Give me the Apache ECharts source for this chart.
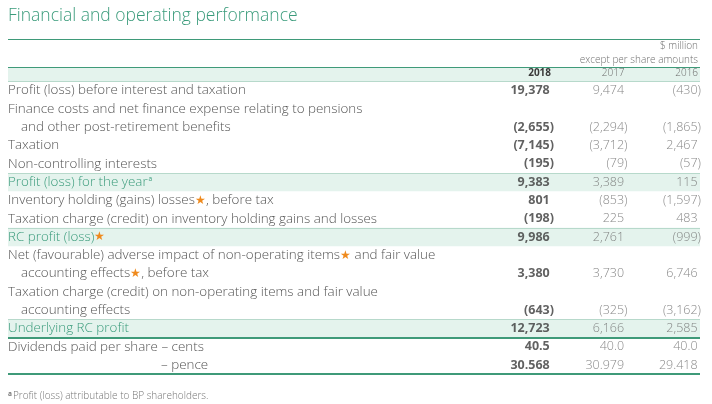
<!DOCTYPE html>
<html>
<head>
<meta charset="utf-8">
<script src="https://cdn.jsdelivr.net/npm/echarts@6/dist/echarts.min.js"></script>
<style>
  html, body { margin: 0; padding: 0; background: #fff; }
  #main { width: 712px; height: 404px; }
</style>
</head>
<body>
<div id="main"></div>
<script>
// table rows, one entry per printed line
var lines = [
  'Profit (loss) before interest and taxation',
  'Finance costs and net finance expense relating to pensions',
  'and other post-retirement benefits',
  'Taxation',
  'Non-controlling interests',
  'Profit (loss) for the year^a',
  'Inventory holding (gains) losses★, before tax',
  'Taxation charge (credit) on inventory holding gains and losses',
  'RC profit (loss)★',
  'Net (favourable) adverse impact of non-operating items★ and fair value',
  'accounting effects★, before tax',
  'Taxation charge (credit) on non-operating items and fair value',
  'accounting effects',
  'Underlying RC profit',
  'Dividends paid per share – cents',
  '– pence'
];
// line on which each value row is printed
var valueLines = [0, 2, 3, 4, 5, 6, 7, 8, 10, 12, 13, 14, 15];
var years = ['2018', '2017', '2016'];
var v2018 = [19378, -2655, -7145, -195, 9383, 801, -198, 9986, 3380, -643, 12723, 40.5, 30.568];
var v2017 = [9474, -2294, -3712, -79, 3389, -853, 225, 2761, 3730, -325, 6166, 40.0, 30.979];
var v2016 = [-430, -1865, 2467, -57, 115, -1597, 483, -999, 6746, -3162, 2585, 40.0, 29.418];
var decimals = [0, 0, 0, 0, 0, 0, 0, 0, 0, 0, 0, 1, 3];
var bandLines = ['Profit (loss) for the year^a', 'RC profit (loss)★', 'Underlying RC profit'];
var headerLines = ['$ million', 'except per share amounts', 'years'];
var footnote = 'Profit (loss) attributable to BP shareholders.';

var GREEN = '#3a9b7b';
var DARK = '#3f9a79';
var LIGHT = '#b7d9cb';
var BAND = '#e4f3ed';
var FONT = 'Open Sans';
var FS = 12.5;   // numbers
var FL = 13.4;   // row labels

function fmtNum(v, d) {
  var s = Math.abs(v).toLocaleString('en-US', {minimumFractionDigits: d, maximumFractionDigits: d});
  return v < 0 ? '(' + s + ')' : s + '{h|)}';
}

function fmtLine(value) {
  var st = bandLines.indexOf(value) >= 0 ? 'g' : 't';
  var pre = '';
  if (/^[a-z]/.test(value)) pre = '{ind|}';
  if (value.charAt(0) === '–') pre = '{dash|}';
  var sup = '';
  if (value.indexOf('^a') >= 0) { value = value.replace('^a', ''); sup = '{sup|a}'; }
  var parts = value.split('★');
  var out = pre;
  for (var i = 0; i < parts.length; i++) {
    if (parts[i]) out += '{' + st + '|' + parts[i] + '}';
    if (i < parts.length - 1) out += '{s|★}';
  }
  return out + sup;
}

function numSeries(name, vals, bold) {
  return {
    type: 'scatter', name: name, xAxisIndex: 2, yAxisIndex: 3,
    symbolSize: 0, silent: true, z: 5,
    data: vals.map(function (v, k) { return [name, lines[valueLines[k]], v]; }),
    label: {
      show: true, position: [0, 0], align: 'right', verticalAlign: 'middle',
      formatter: function (p) { return fmtNum(p.value[2], decimals[p.dataIndex]); },
      fontFamily: FONT, fontSize: FS,
      fontWeight: bold ? 'bold' : 300,
      color: bold ? '#3a3a3a' : '#6a6a6a',
      rich: { h: { color: 'rgba(0,0,0,0)', fontSize: FS, fontFamily: FONT, fontWeight: bold ? 'bold' : 300 } }
    }
  };
}

var chart = echarts.init(document.getElementById('main'));
var option = {
  animation: false,
  textStyle: { fontFamily: FONT },
  title: [
    { text: 'Financial and operating performance', left: 3, top: 2,
      textStyle: { fontFamily: FONT, fontSize: 17.5, fontWeight: 300, color: GREEN } },
    { text: '{sup|a}{f|' + footnote + '}', left: 3, top: 386,
      textStyle: { rich: {
        sup: { fontSize: 6.5, color: '#777', fontFamily: FONT, padding: [0, 1, 4, 0] },
        f: { fontSize: 10, color: '#777', fontFamily: FONT, fontWeight: 300 }
      } } }
  ],
  grid: [
    { left: 8, right: 12, top: 39, height: 42 },
    { left: 8, right: 12, top: 81.5, height: 292.7 },
    { left: 554, right: 11, top: 81.5, height: 292.7 }
  ],
  xAxis: [
    { gridIndex: 0, type: 'value', min: 0, max: 1, show: false },
    { gridIndex: 1, type: 'value', min: 0, max: 1, show: false },
    { gridIndex: 2, type: 'category', data: years, position: 'top', boundaryGap: false, z: 5,
      axisLine: { show: false }, axisTick: { show: false }, splitLine: { show: false },
      axisLabel: {
        interval: 0, align: 'right', verticalAlign: 'middle', margin: 8,
        formatter: function (v, i) { return '{' + (i === 0 ? 'b' : 'n') + '|' + v + '}{h|)}'; },
        rich: {
          b: { fontSize: 10, fontWeight: 'bold', color: '#3a3a3a', fontFamily: FONT },
          n: { fontSize: 10, fontWeight: 300, color: '#6a6a6a', fontFamily: FONT },
          h: { fontSize: 10, color: 'rgba(0,0,0,0)', fontFamily: FONT }
        }
      } }
  ],
  yAxis: [
    { gridIndex: 0, type: 'category', data: headerLines, inverse: true, position: 'right',
      axisLine: { show: false }, axisTick: { show: false },
      axisLabel: { interval: 0, align: 'right', margin: -2, fontSize: 10, fontWeight: 300, color: '#707070',
        formatter: function (v) { return v === 'years' ? '' : v; } },
      splitLine: { show: true, interval: function (i) { return i === 0 || i === 2; },
        lineStyle: { color: [DARK, DARK, LIGHT], width: 1.2 } } },
    { gridIndex: 1, type: 'category', data: lines, inverse: true, position: 'left', z: 5,
      axisLine: { show: false }, axisTick: { show: false },
      axisLabel: {
        interval: 0, align: 'left', margin: 0, formatter: fmtLine,
        rich: {
          t: { fontSize: FL, fontWeight: 300, color: '#555', fontFamily: FONT },
          g: { fontSize: FL, fontWeight: 300, color: GREEN, fontFamily: FONT },
          s: { fontSize: 11.5, color: '#ef8a1d', fontFamily: FONT },
          sup: { fontSize: 6.5, color: GREEN, fontFamily: FONT, padding: [0, 0, 6, 1] },
          ind: { width: 13 },
          dash: { width: 153 }
        }
      },
      splitLine: { show: true, interval: function (i) { return i === 5 || i === 8 || i === 13; },
        lineStyle: { color: [LIGHT, LIGHT, LIGHT, 'rgba(0,0,0,0)'], width: 1 } } },
    { gridIndex: 1, type: 'category', data: lines, inverse: true, position: 'right',
      axisLine: { show: false }, axisTick: { show: false }, axisLabel: { show: false },
      splitLine: { show: true, interval: function (i) { return i === 0 || i === 14; },
        lineStyle: { color: ['rgba(0,0,0,0)', DARK, DARK], width: 2 } } },
    { gridIndex: 2, type: 'category', data: lines, inverse: true, show: false }
  ],
  series: [
    { type: 'bar', xAxisIndex: 0, yAxisIndex: 0, barWidth: '100%', silent: true, z: -1,
      itemStyle: { color: BAND }, data: [[1, 'years']] },
    { type: 'bar', xAxisIndex: 1, yAxisIndex: 1, barWidth: '100%', silent: true, z: -1,
      itemStyle: { color: BAND }, data: bandLines.map(function (l) { return [1, l]; }) },
    numSeries('2018', v2018, true),
    numSeries('2017', v2017, false),
    numSeries('2016', v2016, false)
  ]
};
chart.setOption(option);
</script>
</body>
</html>
